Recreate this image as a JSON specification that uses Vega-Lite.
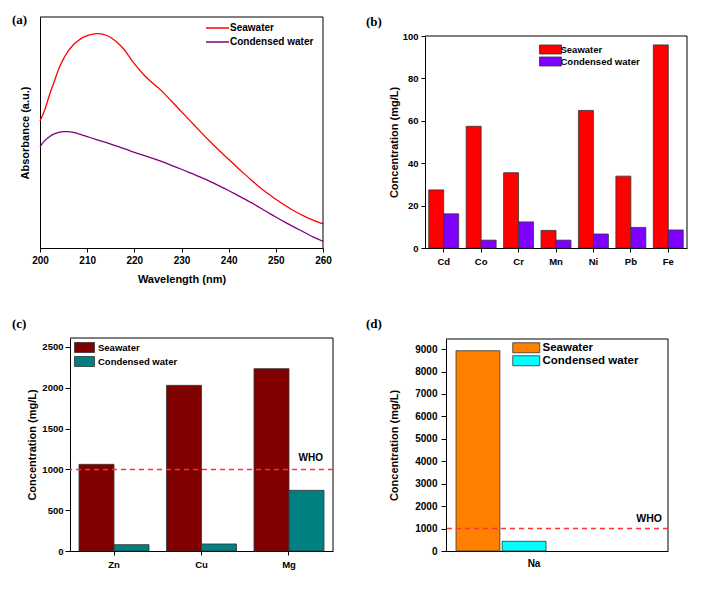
{
  "$schema": "https://vega.github.io/schema/vega-lite/v6.json",
  "background": "white",
  "padding": {"left": 12, "top": 13, "right": 5, "bottom": 5},
  "columns": 2,
  "align": "none",
  "bounds": "full",
  "spacing": {"row": 33, "column": 13},
  "resolve": {"scale": {"color": "independent", "xOffset": "independent", "x": "independent", "y": "independent"}},
  "config": {
    "view": {"stroke": null},
    "axis": {"grid": false, "domainColor": "black", "tickColor": "black", "labelColor": "black", "titleColor": "black", "labelFont": "Liberation Sans", "titleFont": "Liberation Sans", "labelFontWeight": "bold", "titleFontWeight": "bold", "labelFlush": false, "labelOverlap": false},
    "legend": {"labelFont": "Liberation Sans", "labelFontWeight": "bold", "labelColor": "black", "padding": 0},
    "title": {"font": "Liberation Serif", "fontSize": 13, "fontWeight": "bold", "anchor": "start", "frame": "group", "color": "black"}
  },
  "concat": [
    {
      "width": 253, "height": 212,
      "title": {"text": "(a)", "dx": -58, "offset": -10},
      "resolve": {"axis": {"x": "independent", "y": "independent"}},
      "data": {"values": [
        {"s": "Seawater", "wl": 200, "abs": 0.550}, {"s": "Seawater", "wl": 201, "abs": 0.597}, {"s": "Seawater", "wl": 202, "abs": 0.662}, {"s": "Seawater", "wl": 203, "abs": 0.719}, {"s": "Seawater", "wl": 204, "abs": 0.777}, {"s": "Seawater", "wl": 205, "abs": 0.820}, {"s": "Seawater", "wl": 206, "abs": 0.853}, {"s": "Seawater", "wl": 207, "abs": 0.878}, {"s": "Seawater", "wl": 208, "abs": 0.896}, {"s": "Seawater", "wl": 209, "abs": 0.911}, {"s": "Seawater", "wl": 210, "abs": 0.919}, {"s": "Seawater", "wl": 211, "abs": 0.925}, {"s": "Seawater", "wl": 212, "abs": 0.928}, {"s": "Seawater", "wl": 213, "abs": 0.927}, {"s": "Seawater", "wl": 214, "abs": 0.921}, {"s": "Seawater", "wl": 215, "abs": 0.911}, {"s": "Seawater", "wl": 216, "abs": 0.896}, {"s": "Seawater", "wl": 217, "abs": 0.878}, {"s": "Seawater", "wl": 218, "abs": 0.855}, {"s": "Seawater", "wl": 219, "abs": 0.826}, {"s": "Seawater", "wl": 220, "abs": 0.798}, {"s": "Seawater", "wl": 222, "abs": 0.750}, {"s": "Seawater", "wl": 224, "abs": 0.712}, {"s": "Seawater", "wl": 226, "abs": 0.676}, {"s": "Seawater", "wl": 228, "abs": 0.633}, {"s": "Seawater", "wl": 230, "abs": 0.590}, {"s": "Seawater", "wl": 232, "abs": 0.547}, {"s": "Seawater", "wl": 234, "abs": 0.504}, {"s": "Seawater", "wl": 236, "abs": 0.462}, {"s": "Seawater", "wl": 238, "abs": 0.422}, {"s": "Seawater", "wl": 240, "abs": 0.384}, {"s": "Seawater", "wl": 242, "abs": 0.345}, {"s": "Seawater", "wl": 244, "abs": 0.309}, {"s": "Seawater", "wl": 246, "abs": 0.273}, {"s": "Seawater", "wl": 248, "abs": 0.240}, {"s": "Seawater", "wl": 250, "abs": 0.211}, {"s": "Seawater", "wl": 252, "abs": 0.184}, {"s": "Seawater", "wl": 254, "abs": 0.159}, {"s": "Seawater", "wl": 256, "abs": 0.138}, {"s": "Seawater", "wl": 258, "abs": 0.120}, {"s": "Seawater", "wl": 260, "abs": 0.104},
        {"s": "Condensed water", "wl": 200, "abs": 0.439}, {"s": "Condensed water", "wl": 201, "abs": 0.465}, {"s": "Condensed water", "wl": 202, "abs": 0.482}, {"s": "Condensed water", "wl": 203, "abs": 0.494}, {"s": "Condensed water", "wl": 204, "abs": 0.501}, {"s": "Condensed water", "wl": 205, "abs": 0.504}, {"s": "Condensed water", "wl": 206, "abs": 0.504}, {"s": "Condensed water", "wl": 207, "abs": 0.501}, {"s": "Condensed water", "wl": 208, "abs": 0.495}, {"s": "Condensed water", "wl": 210, "abs": 0.482}, {"s": "Condensed water", "wl": 212, "abs": 0.469}, {"s": "Condensed water", "wl": 215, "abs": 0.450}, {"s": "Condensed water", "wl": 218, "abs": 0.429}, {"s": "Condensed water", "wl": 220, "abs": 0.414}, {"s": "Condensed water", "wl": 222, "abs": 0.401}, {"s": "Condensed water", "wl": 225, "abs": 0.380}, {"s": "Condensed water", "wl": 228, "abs": 0.357}, {"s": "Condensed water", "wl": 230, "abs": 0.341}, {"s": "Condensed water", "wl": 232, "abs": 0.324}, {"s": "Condensed water", "wl": 235, "abs": 0.298}, {"s": "Condensed water", "wl": 238, "abs": 0.269}, {"s": "Condensed water", "wl": 240, "abs": 0.249}, {"s": "Condensed water", "wl": 242, "abs": 0.227}, {"s": "Condensed water", "wl": 245, "abs": 0.194}, {"s": "Condensed water", "wl": 248, "abs": 0.158}, {"s": "Condensed water", "wl": 250, "abs": 0.134}, {"s": "Condensed water", "wl": 252, "abs": 0.111}, {"s": "Condensed water", "wl": 255, "abs": 0.079}, {"s": "Condensed water", "wl": 258, "abs": 0.047}, {"s": "Condensed water", "wl": 260, "abs": 0.029}
      ]},
      "layer": [
        {
          "mark": {"type": "line", "strokeWidth": 1.3, "interpolate": "monotone"},
          "encoding": {
            "x": {"field": "wl", "type": "quantitative", "scale": {"domain": [200, 260], "nice": false, "zero": false, "range": [-30, 253]},
                  "axis": {"title": "Wavelength (nm)", "values": [200, 210, 220, 230, 240, 250, 260], "format": "d", "tickSize": 4, "labelPadding": 3, "labelFontSize": 10, "titleFontSize": 11, "titlePadding": 8}},
            "y": {"field": "abs", "type": "quantitative", "scale": {"domain": [0, 1], "nice": false, "range": [212, -19]},
                  "axis": {"title": "Absorbance (a.u.)", "labels": false, "ticks": false, "offset": 30, "minExtent": 0, "maxExtent": 0, "titlePadding": 10, "titleFontSize": 11}},
            "color": {"field": "s", "type": "nominal", "scale": {"domain": ["Seawater", "Condensed water"], "range": ["#ff0000", "#800080"]},
                      "legend": {"orient": "none", "legendX": 141.5, "legendY": -14, "title": null, "symbolType": "M-2.3,0H2.3", "symbolSize": 100, "symbolStrokeWidth": 1.5, "labelFontSize": 10, "labelOffset": 6.5, "rowPadding": 3}}
          }
        },
        {
          "data": {"values": [{}]},
          "mark": {"type": "rule", "color": "black", "strokeWidth": 1},
          "encoding": {"x": {"datum": 200, "axis": null}, "x2": {"datum": 260}, "y": {"datum": 1, "axis": null}}
        },
        {
          "data": {"values": [{}]},
          "mark": {"type": "rule", "color": "black", "strokeWidth": 1},
          "encoding": {"x": {"datum": 260, "axis": null}, "y": {"datum": 0, "axis": null}, "y2": {"datum": 1}}
        }
      ]
    },
    {
      "width": 262, "height": 212,
      "title": {"text": "(b)", "dx": -59, "offset": 2},
      "resolve": {"axis": {"x": "independent", "y": "independent"}},
      "data": {"values": [
        {"el": "Cd", "s": "Seawater", "v": 27.4}, {"el": "Cd", "s": "Condensed water", "v": 16.1},
        {"el": "Co", "s": "Seawater", "v": 57.4}, {"el": "Co", "s": "Condensed water", "v": 3.7},
        {"el": "Cr", "s": "Seawater", "v": 35.5}, {"el": "Cr", "s": "Condensed water", "v": 12.3},
        {"el": "Mn", "s": "Seawater", "v": 8.3}, {"el": "Mn", "s": "Condensed water", "v": 3.7},
        {"el": "Ni", "s": "Seawater", "v": 64.9}, {"el": "Ni", "s": "Condensed water", "v": 6.6},
        {"el": "Pb", "s": "Seawater", "v": 33.9}, {"el": "Pb", "s": "Condensed water", "v": 9.7},
        {"el": "Fe", "s": "Seawater", "v": 95.8}, {"el": "Fe", "s": "Condensed water", "v": 8.5}
      ]},
      "layer": [
        {
          "mark": {"type": "bar", "stroke": "#333333", "strokeWidth": 0.8},
          "encoding": {
            "x": {"field": "el", "type": "nominal", "sort": ["Cd", "Co", "Cr", "Mn", "Ni", "Pb", "Fe"], "scale": {"paddingInner": 0.2, "paddingOuter": 0.1},
                  "axis": {"title": null, "labelAngle": 0, "tickSize": 4, "labelPadding": 4, "labelFontSize": 9.5}},
            "xOffset": {"field": "s", "type": "nominal", "scale": {"domain": ["Seawater", "Condensed water"], "paddingInner": 0, "paddingOuter": 0}},
            "y": {"field": "v", "type": "quantitative", "scale": {"domain": [0, 100], "nice": false},
                  "axis": {"title": "Concentration (mg/L)", "values": [0, 20, 40, 60, 80, 100], "format": "d", "tickSize": 4, "labelPadding": 3, "labelFontSize": 9.5, "titleFontSize": 11, "minExtent": 22, "maxExtent": 22, "titlePadding": 4}},
            "color": {"field": "s", "type": "nominal", "scale": {"domain": ["Seawater", "Condensed water"], "range": ["#ff0000", "#8000ff"]},
                      "legend": {"orient": "none", "legendX": 120, "legendY": 8, "title": null, "symbolType": "M-2.2,-0.9H2.2V0.9H-2.2Z", "symbolSize": 100, "symbolStrokeColor": "#333333", "symbolStrokeWidth": 0.8, "labelFontSize": 9.5, "labelOffset": 4.5, "rowPadding": -2}}
          }
        },
        {
          "data": {"values": [{}]},
          "mark": {"type": "rule", "color": "black", "strokeWidth": 1},
          "encoding": {"y": {"datum": 100, "axis": null}}
        },
        {
          "data": {"values": [{}]},
          "mark": {"type": "rule", "color": "black", "strokeWidth": 1},
          "encoding": {"x": {"value": "width"}}
        }
      ]
    },
    {
      "width": 263, "height": 213,
      "title": {"text": "(c)", "dx": -58, "offset": 7},
      "resolve": {"axis": {"x": "independent", "y": "independent"}},
      "data": {"values": [
        {"el": "Zn", "s": "Seawater", "v": 1062}, {"el": "Zn", "s": "Condensed water", "v": 78},
        {"el": "Cu", "s": "Seawater", "v": 2030}, {"el": "Cu", "s": "Condensed water", "v": 86},
        {"el": "Mg", "s": "Seawater", "v": 2234}, {"el": "Mg", "s": "Condensed water", "v": 743}
      ]},
      "layer": [
        {
          "mark": {"type": "bar", "stroke": "#333333", "strokeWidth": 0.8},
          "encoding": {
            "x": {"field": "el", "type": "nominal", "sort": ["Zn", "Cu", "Mg"], "scale": {"paddingInner": 0.2, "paddingOuter": 0.103},
                  "axis": {"title": null, "labelAngle": 0, "tickSize": 4, "labelPadding": 4, "labelFontSize": 9.5}},
            "xOffset": {"field": "s", "type": "nominal", "scale": {"domain": ["Seawater", "Condensed water"], "paddingInner": 0, "paddingOuter": 0}},
            "y": {"field": "v", "type": "quantitative", "scale": {"domain": [0, 2610], "nice": false},
                  "axis": {"title": "Concentration (mg/L)", "values": [0, 500, 1000, 1500, 2000, 2500], "format": "d", "tickSize": 5, "labelPadding": 2, "labelFontSize": 9.5, "titleFontSize": 11, "minExtent": 28, "maxExtent": 28, "titlePadding": 5}},
            "color": {"field": "s", "type": "nominal", "scale": {"domain": ["Seawater", "Condensed water"], "range": ["#800000", "#008080"]},
                      "legend": {"orient": "none", "legendX": 9, "legendY": 4, "title": null, "symbolType": "M-2,-1H2V1H-2Z", "symbolSize": 100, "symbolStrokeColor": "#333333", "symbolStrokeWidth": 0.8, "labelFontSize": 9.5, "labelOffset": 8, "rowPadding": -1}}
          }
        },
        {
          "data": {"values": [{}]},
          "mark": {"type": "rule", "color": "black", "strokeWidth": 1},
          "encoding": {"y": {"datum": 2610, "axis": null}}
        },
        {
          "data": {"values": [{}]},
          "mark": {"type": "rule", "color": "black", "strokeWidth": 1},
          "encoding": {"x": {"value": "width"}}
        },
        {
          "data": {"values": [{}]},
          "mark": {"type": "rule", "color": "#ff3333", "strokeWidth": 1.5, "strokeDash": [5, 4]},
          "encoding": {"y": {"datum": 1000, "axis": null}}
        },
        {
          "data": {"values": [{}]},
          "mark": {"type": "text", "text": "WHO", "font": "Liberation Sans", "fontWeight": "bold", "fontSize": 10, "align": "right", "baseline": "bottom", "dx": -10, "dy": -6, "color": "black"},
          "encoding": {"x": {"value": "width"}, "y": {"datum": 1000, "axis": null}}
        }
      ]
    },
    {
      "width": 222, "height": 212,
      "title": {"text": "(d)", "dx": -80, "offset": 8},
      "resolve": {"axis": {"x": "independent", "y": "independent"}},
      "data": {"values": [
        {"el": "Na", "s": "Seawater", "v": 8926}, {"el": "Na", "s": "Condensed water", "v": 432}
      ]},
      "layer": [
        {
          "mark": {"type": "bar", "stroke": "#333333", "strokeWidth": 0.8},
          "encoding": {
            "x": {"field": "el", "type": "nominal", "scale": {"paddingInner": 0, "paddingOuter": 0.733, "align": 0.076},
                  "axis": {"title": null, "labelAngle": 0, "ticks": false, "labelPadding": 7, "labelFontSize": 10, "labelOffset": 33}},
            "xOffset": {"field": "s", "type": "nominal", "scale": {"domain": ["Seawater", "Condensed water"], "paddingInner": 0.05, "paddingOuter": 0}},
            "y": {"field": "v", "type": "quantitative", "scale": {"domain": [0, 9450], "nice": false},
                  "axis": {"title": "Concentration (mg/L)", "values": [0, 1000, 2000, 3000, 4000, 5000, 6000, 7000, 8000, 9000], "format": "d", "labelOverlap": false, "tickSize": 5, "labelPadding": 4, "labelFontSize": 10, "titleFontSize": 11, "minExtent": 36, "maxExtent": 36, "titlePadding": 11}},
            "color": {"field": "s", "type": "nominal", "scale": {"domain": ["Seawater", "Condensed water"], "range": ["#ff8000", "#00ffff"]},
                      "legend": {"orient": "none", "legendX": 74.5, "legendY": 3, "title": null, "symbolType": "M-2.7,-1H2.7V1H-2.7Z", "symbolSize": 100, "symbolStrokeColor": "#333333", "symbolStrokeWidth": 0.8, "labelFontSize": 11.5, "labelOffset": 10.5, "rowPadding": -5}}
          }
        },
        {
          "data": {"values": [{}]},
          "mark": {"type": "rule", "color": "black", "strokeWidth": 1},
          "encoding": {"y": {"datum": 9450, "axis": null}}
        },
        {
          "data": {"values": [{}]},
          "mark": {"type": "rule", "color": "black", "strokeWidth": 1},
          "encoding": {"x": {"value": "width"}}
        },
        {
          "data": {"values": [{}]},
          "mark": {"type": "rule", "color": "#ff3333", "strokeWidth": 1.5, "strokeDash": [5, 4]},
          "encoding": {"y": {"datum": 1000, "axis": null}}
        },
        {
          "data": {"values": [{}]},
          "mark": {"type": "text", "text": "WHO", "font": "Liberation Sans", "fontWeight": "bold", "fontSize": 10.5, "align": "right", "baseline": "bottom", "dx": -6, "dy": -5, "color": "black"},
          "encoding": {"x": {"value": "width"}, "y": {"datum": 1000, "axis": null}}
        }
      ]
    }
  ]
}
